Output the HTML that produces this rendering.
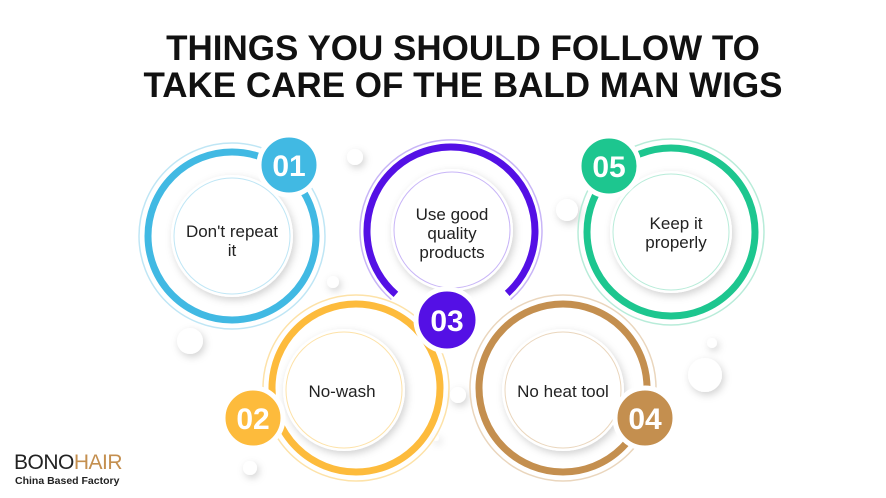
<!DOCTYPE html>
<html><head><meta charset="utf-8"><style>
body{margin:0;background:#fff;width:886px;height:498px;overflow:hidden}
svg{display:block}
.t{font-family:"Liberation Sans",sans-serif;font-weight:bold;font-size:35px;fill:#111;text-anchor:middle}
.l{font-family:"Liberation Sans",sans-serif;font-size:17px;fill:#222;text-anchor:middle}
.n{font-family:"Liberation Sans",sans-serif;font-weight:bold;font-size:30px;fill:#fff;text-anchor:middle}
</style></head><body>
<svg width="886" height="498" viewBox="0 0 886 498">
<defs><filter id="s" x="-30%" y="-30%" width="160%" height="160%"><feDropShadow dx="2" dy="3" stdDeviation="4" flood-color="#000" flood-opacity="0.18"/></filter></defs>
<text class="t" x="463" y="60">THINGS YOU SHOULD FOLLOW TO</text>
<text class="t" x="463" y="97">TAKE CARE OF THE BALD MAN WIGS</text>
<g fill="#fff" filter="url(#s)">
<circle cx="355" cy="157" r="8"/><circle cx="567" cy="210" r="11"/><circle cx="333" cy="282" r="6"/>
<circle cx="190" cy="341" r="13"/><circle cx="705" cy="375" r="17"/><circle cx="458" cy="395" r="8"/>
<circle cx="712" cy="343" r="5"/><circle cx="436" cy="438" r="3"/><circle cx="250" cy="468" r="7"/>
</g>
<g>
<circle cx="232" cy="236" r="93" fill="none" stroke="#bfe6f5" stroke-width="1.5"/>
<circle cx="232" cy="236" r="84" fill="none" stroke="#41b9e3" stroke-width="7"/>
<circle cx="232" cy="236" r="61" fill="#fff" filter="url(#s)"/>
<circle cx="232" cy="236" r="58" fill="none" stroke="#bfe6f5" stroke-width="1"/>
<circle cx="289" cy="165" r="30" fill="#41b9e3" stroke="#fff" stroke-width="5"/>
<text class="n" x="289" y="176">01</text>
<text class="l" x="232" y="237">Don't repeat</text><text class="l" x="232" y="256">it</text>
</g>
<g>
<circle cx="671" cy="232" r="93" fill="none" stroke="#b8ecd9" stroke-width="1.5"/>
<circle cx="671" cy="232" r="84" fill="none" stroke="#1dc68f" stroke-width="7"/>
<circle cx="671" cy="232" r="61" fill="#fff" filter="url(#s)"/>
<circle cx="671" cy="232" r="58" fill="none" stroke="#b8ecd9" stroke-width="1"/>
<circle cx="609" cy="166" r="30" fill="#1dc68f" stroke="#fff" stroke-width="5"/>
<text class="n" x="609" y="177">05</text>
<text class="l" x="676" y="229">Keep it</text><text class="l" x="676" y="248">properly</text>
</g>
<g>
<circle cx="356" cy="388" r="93" fill="none" stroke="#fde2a8" stroke-width="1.5"/>
<circle cx="356" cy="388" r="84" fill="none" stroke="#fdbb3c" stroke-width="7"/>
<circle cx="344" cy="390" r="61" fill="#fff" filter="url(#s)"/>
<circle cx="344" cy="390" r="58" fill="none" stroke="#fde2a8" stroke-width="1"/>
<circle cx="253" cy="418" r="30" fill="#fdbb3c" stroke="#fff" stroke-width="5"/>
<text class="n" x="253" y="429">02</text>
<text class="l" x="342" y="397">No-wash</text>
</g>
<g>
<circle cx="563" cy="388" r="93" fill="none" stroke="#ead6bd" stroke-width="1.5"/>
<circle cx="563" cy="388" r="84" fill="none" stroke="#c48f4f" stroke-width="7"/>
<circle cx="563" cy="390" r="61" fill="#fff" filter="url(#s)"/>
<circle cx="563" cy="390" r="58" fill="none" stroke="#ead6bd" stroke-width="1"/>
<circle cx="645" cy="418" r="30" fill="#c48f4f" stroke="#fff" stroke-width="5"/>
<text class="n" x="645" y="429">04</text>
<text class="l" x="563" y="397">No heat tool</text>
</g>
<g>
<path d="M391.4 299.6 A91 91 0 1 1 510.6 299.6" fill="none" stroke="#c8b5f7" stroke-width="1.5"/>
<path d="M395.9 294.4 A84 84 0 1 1 507.2 293.4" fill="none" stroke="#5410e5" stroke-width="7"/>
<circle cx="452" cy="230" r="61" fill="#fff" filter="url(#s)"/>
<circle cx="452" cy="230" r="58" fill="none" stroke="#c8b5f7" stroke-width="1"/>
<circle cx="447" cy="320" r="31" fill="#5410e5" stroke="#fff" stroke-width="5"/>
<text class="n" x="447" y="331">03</text>
<text class="l" x="452" y="220">Use good</text><text class="l" x="452" y="239">quality</text><text class="l" x="452" y="258">products</text>
</g>
<text x="14" y="469" font-family="Liberation Sans,sans-serif" font-size="21" fill="#222" letter-spacing="-0.5">BONO<tspan fill="#c48f4f">HAIR</tspan></text>
<text x="15" y="484" font-family="Liberation Sans,sans-serif" font-size="10.5" font-weight="bold" fill="#222">China Based Factory</text>
</svg>
</body></html>
